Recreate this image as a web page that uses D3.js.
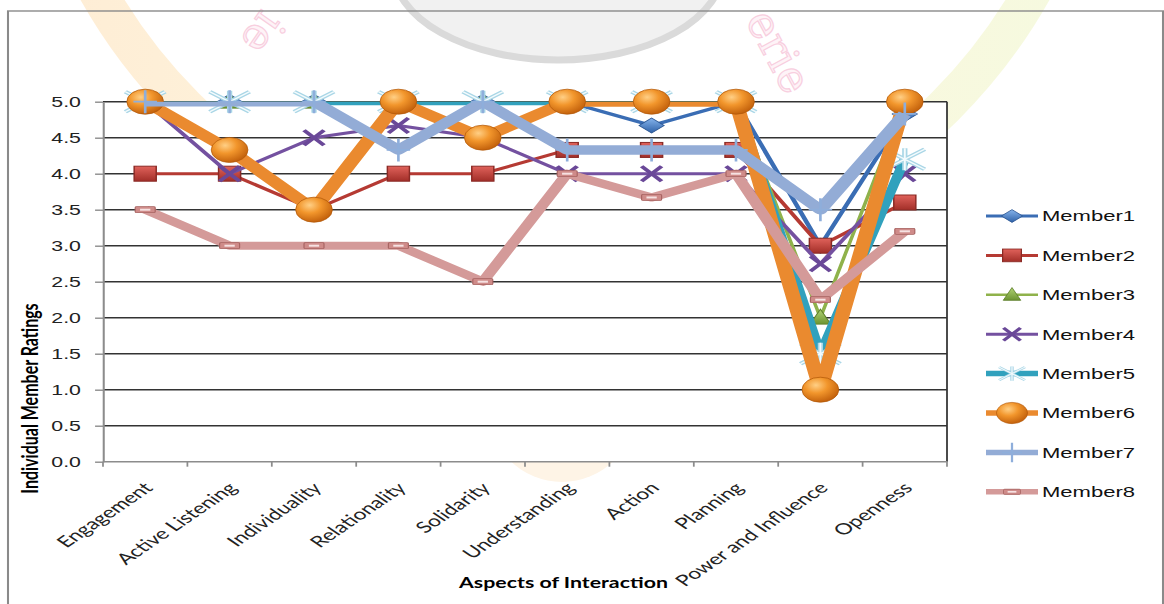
<!DOCTYPE html>
<meta charset="utf-8">
<head>
  <title>Individual Member Ratings</title>
</head>
<style>
body { margin: 0; background: #fff; }
svg { display: block; }
.ytick text { font: 14.5px "Liberation Sans", Arial, sans-serif; fill: #222; }
.cat { font: 15.5px Lato, "Open Sans", sans-serif; fill: #222; }
.title { font: bold 14.5px Lato, "Open Sans", sans-serif; fill: #000; }
.ytitle { font-size: 16px; }
.legend text { font: 15px "Liberation Sans", Arial, sans-serif; fill: #111; }
</style>
<body>
<script src="https://d3js.org/d3.v7.min.js"></script>
<script>
var categories = ["Engagement", "Active Listening", "Individuality", "Relationality", "Solidarity",
                  "Understanding", "Action", "Planning", "Power and Influence", "Openness"]
var yTicks = [0, 0.5, 1, 1.5, 2, 2.5, 3, 3.5, 4, 4.5, 5]

var member1 = [5, 5, 5, 5, 5, 5, 4.67, 5, 3.0, 4.83]
var member2 = [4, 4, 3.5, 4, 4, 4.33, 4.33, 4.33, 3.0, 3.6]
var member3 = [5, 5, 5, 5, 5, 5, 5, 5, 2.0, 5]
var member4 = [5, 4, 4.5, 4.67, 4.5, 4, 4, 4, 2.75, 4]
var member5 = [5, 5, 5, 5, 5, 5, 5, 5, 1.5, 4.2]
var member6 = [5, 4.33, 3.5, 5, 4.5, 5, 5, 5, 1.0, 5]
var member7 = [5, 5, 5, 4.33, 5, 4.33, 4.33, 4.33, 3.5, 4.83]
var member8 = [3.5, 3, 3, 3, 2.5, 4, 3.67, 4, 2.25, 3.2]

var seriesNames = ["Member1", "Member2", "Member3", "Member4", "Member5", "Member6", "Member7", "Member8"]
var seriesValues = [member1, member2, member3, member4, member5, member6, member7, member8]

// look of each series (line colour, width, marker kind)
var looks = [
  {color: "#3a6db4", width: 3.2, marker: "diamond"},
  {color: "#b53a33", width: 3,   marker: "square"},
  {color: "#8fb24b", width: 2.5, marker: "triangle"},
  {color: "#7451a0", width: 3,   marker: "x"},
  {color: "#31a1bd", width: 7,   marker: "star"},
  {color: "#ea8a2f", width: 10,  marker: "ball"},
  {color: "#93acd6", width: 9.5, marker: "plus"},
  {color: "#d49a99", width: 8,   marker: "dash"}
]

var S = 1.47   // the source picture is stretched sideways

var svg = d3.select("body").append("svg")
    .attr("width", 1164)
    .attr("height", 604)

var defs = svg.append("defs")

var ring = defs.append("linearGradient").attr("id", "ringGrad")
    .attr("gradientUnits", "userSpaceOnUse")
    .attr("x1", 0).attr("x2", 1164).attr("y1", 0).attr("y2", 0)
ring.append("stop").attr("offset", "0%").attr("stop-color", "#feecd4")
ring.append("stop").attr("offset", "45%").attr("stop-color", "#fef6de")
ring.append("stop").attr("offset", "100%").attr("stop-color", "#f4fadf")

var ballGrad = defs.append("radialGradient").attr("id", "ballGrad")
    .attr("cx", "38%").attr("cy", "32%").attr("r", "70%")
ballGrad.append("stop").attr("offset", "0%").attr("stop-color", "#ffcf85")
ballGrad.append("stop").attr("offset", "45%").attr("stop-color", "#f2962c")
ballGrad.append("stop").attr("offset", "100%").attr("stop-color", "#c2600b")

function vgrad(id, c1, c2) {
  var gr = defs.append("linearGradient").attr("id", id)
      .attr("x1", 0).attr("x2", 0).attr("y1", 0).attr("y2", 1)
  gr.append("stop").attr("offset", "0%").attr("stop-color", c1)
  gr.append("stop").attr("offset", "100%").attr("stop-color", c2)
}
vgrad("blueGrad", "#86b4ec", "#2f62a8")
vgrad("redGrad", "#e0625b", "#a22e28")
vgrad("greenGrad", "#b0d273", "#6c9430")

// faint watermark behind the chart
var wm = svg.append("g")
wm.append("circle")
    .attr("cx", 565).attr("cy", -273).attr("r", 537)
    .attr("fill", "none")
    .attr("stroke", "url(#ringGrad)")
    .attr("stroke-width", 38)
wm.append("ellipse")
    .attr("cx", 558).attr("cy", -32).attr("rx", 165).attr("ry", 92)
    .attr("fill", "#f1f1f1")
    .attr("stroke", "#dadada")
    .attr("stroke-width", 7)
wm.append("circle")
    .attr("cx", 562).attr("cy", 408).attr("r", 74)
    .attr("fill", "#fef4e6")
wm.append("text")
    .attr("transform", "translate(745,20) rotate(62)")
    .attr("font-family", "DejaVu Serif")
    .attr("font-size", 44)
    .attr("fill", "#fef3f7")
    .attr("stroke", "#f8cfdf")
    .attr("stroke-width", 1.2)
    .text("erie")
wm.append("text")
    .attr("transform", "translate(262,8) rotate(125)")
    .attr("font-family", "DejaVu Serif")
    .attr("font-size", 44)
    .attr("fill", "#fef3f7")
    .attr("stroke", "#f8cfdf")
    .attr("stroke-width", 1.2)
    .text("ie")

var g = svg.append("g").attr("transform", "scale(" + S + ",1)")

var plotLeft = 103 / S, plotRight = 947 / S, plotTop = 101.7, plotBottom = 461.7

var x = d3.scaleBand().domain(categories).range([plotLeft, plotRight])
var y = d3.scaleLinear().domain([0, 5]).range([plotBottom, plotTop])
function cx(i) { return x(categories[i]) + x.bandwidth() / 2 }

// chart frame
g.append("rect")
    .attr("x", 8 / S).attr("y", 11)
    .attr("width", (1163 - 8) / S).attr("height", 640)
    .attr("fill", "none")
    .attr("stroke", "#8a8a8a")
    .attr("stroke-width", 1.4)

g.append("rect")
    .attr("x", plotLeft).attr("y", plotTop)
    .attr("width", plotRight - plotLeft).attr("height", plotBottom - plotTop)
    .attr("fill", "#fff")

g.selectAll(".grid")
    .data(yTicks.slice(1))
  .enter().append("line")
    .attr("class", "grid")
    .attr("x1", plotLeft).attr("x2", plotRight)
    .attr("y1", function(d) { return y(d) })
    .attr("y2", function(d) { return y(d) })
    .attr("stroke", "#333")
    .attr("stroke-width", 1.5)

g.append("line")
    .attr("x1", plotRight).attr("x2", plotRight)
    .attr("y1", plotTop).attr("y2", plotBottom)
    .attr("stroke", "#333")
    .attr("stroke-width", 1.2)

var yAxis = g.append("g")
    .attr("class", "ytick")
    .attr("transform", "translate(" + plotLeft + ",0)")
    .call(d3.axisLeft(y).tickValues(yTicks).tickFormat(d3.format(".1f"))
      .tickSize(5.4).tickSizeOuter(0).tickPadding(9.6))
yAxis.select(".domain").attr("stroke", "#8c8c8c").attr("stroke-width", 1.4)
yAxis.selectAll(".tick line").attr("stroke", "#8c8c8c").attr("stroke-width", 1.4)
yAxis.attr("font-family", null).attr("font-size", null)

// category axis, ticks between categories
var xAxis = g.append("g")
xAxis.append("line")
    .attr("x1", plotLeft).attr("x2", plotRight)
    .attr("y1", plotBottom).attr("y2", plotBottom)
    .attr("stroke", "#8c8c8c")
    .attr("stroke-width", 1.6)
xAxis.selectAll(".xtick")
    .data(categories.map(function(c) { return x(c) }).concat([plotRight]))
  .enter().append("line")
    .attr("x1", function(d) { return d }).attr("x2", function(d) { return d })
    .attr("y1", plotBottom).attr("y2", plotBottom + 5)
    .attr("stroke", "#8c8c8c")
    .attr("stroke-width", 1.2)
xAxis.selectAll(".cat")
    .data(categories)
  .enter().append("text")
    .attr("class", "cat")
    .attr("text-anchor", "end")
    .attr("transform", function(d, i) { return "translate(" + (cx(i) + 6) + ",489) rotate(-45)" })
    .text(function(d) { return d })

g.append("text")
    .attr("class", "title ytitle")
    .attr("text-anchor", "middle")
    .attr("transform", "translate(" + (38 / S) + ",398.5) rotate(-90)")
    .text("Individual Member Ratings")

g.append("text")
    .attr("class", "title")
    .attr("text-anchor", "middle")
    .attr("x", 563.5 / S).attr("y", 588)
    .text("Aspects of Interaction")

defs.append("clipPath").attr("id", "plotClip")
  .append("rect")
    .attr("x", plotLeft).attr("y", plotTop)
    .attr("width", plotRight - plotLeft).attr("height", plotBottom - plotTop)

function drawMarker(parent, kind, px, py, k) {
  var m = parent.append("g").attr("transform", "translate(" + px + "," + py + ") scale(" + k + ")")
  if (kind == "diamond") {
    m.append("path").attr("d", "M0,-7.5L8.5,0L0,7.5L-8.5,0Z")
      .attr("fill", "url(#blueGrad)").attr("stroke", "#2a5592").attr("stroke-width", 0.8)
  } else if (kind == "square") {
    m.append("rect").attr("x", -7.5).attr("y", -7.5).attr("width", 15).attr("height", 15)
      .attr("fill", "url(#redGrad)").attr("stroke", "#8a2a25").attr("stroke-width", 1)
  } else if (kind == "triangle") {
    m.append("path").attr("d", "M0,-8.5L7,6.5L-7,6.5Z")
      .attr("fill", "url(#greenGrad)").attr("stroke", "#5d7f2b").attr("stroke-width", 0.8)
  } else if (kind == "x") {
    m.append("path").attr("d", "M-6.8,-7.5L6.8,7.5M6.8,-7.5L-6.8,7.5")
      .attr("stroke", "#6a4898").attr("stroke-width", 3.2).attr("fill", "none")
  } else if (kind == "star") {
    var p = "M-13.5,-10L13.5,10M13.5,-10L-13.5,10M0,-11L0,11"
    m.append("path").attr("d", p).attr("stroke", "#a9d6e6").attr("stroke-width", 3.6).attr("fill", "none")
    m.append("path").attr("d", p).attr("stroke", "#f4fbfd").attr("stroke-width", 1.3).attr("fill", "none")
  } else if (kind == "ball") {
    m.append("circle").attr("r", 12.5)
      .attr("fill", "url(#ballGrad)").attr("stroke", "#b25808").attr("stroke-width", 0.6)
  } else if (kind == "plus") {
    m.append("path").attr("d", "M0,-11.5L0,11.5M-8,0L8,0")
      .attr("stroke", "#8eaedb").attr("stroke-width", 1.8).attr("fill", "none")
  } else if (kind == "dash") {
    m.append("rect").attr("x", -6.8).attr("y", -3).attr("width", 13.6).attr("height", 6).attr("rx", 1)
      .attr("fill", "#cf8b89").attr("stroke", "#a86462").attr("stroke-width", 0.8)
    m.append("rect").attr("x", -3.5).attr("y", -1).attr("width", 7).attr("height", 2)
      .attr("fill", "#f6e2e2")
  }
}

var line = d3.line()
    .x(function(d, i) { return cx(i) })
    .y(function(d) { return y(d) })

seriesValues.forEach(function(vals, s) {
  var look = looks[s]
  var sg = g.append("g").attr("class", "series")
  sg.append("path")
      .attr("d", line(vals))
      .attr("clip-path", "url(#plotClip)")
      .attr("fill", "none")
      .attr("stroke", look.color)
      .attr("stroke-width", look.width)
      .attr("stroke-linejoin", "round")
  vals.forEach(function(v, i) {
    drawMarker(sg, look.marker, cx(i), y(v), 1)
  })
})

// legend
var lx1 = 986 / S, lx2 = 1038 / S
var legend = g.append("g").attr("class", "legend")
seriesNames.forEach(function(name, s) {
  var ly = 216 + s * 39.4
  var look = looks[s]
  legend.append("line")
      .attr("x1", lx1).attr("x2", lx2)
      .attr("y1", ly).attr("y2", ly)
      .attr("stroke", look.color)
      .attr("stroke-width", Math.min(look.width, 5.5))
  drawMarker(legend, look.marker, (lx1 + lx2) / 2, ly, look.marker == "star" ? 0.65 : 0.85)
  legend.append("text")
      .attr("x", 1042 / S).attr("y", ly + 5.5)
      .text(name)
})
</script>
</body>
</html>
